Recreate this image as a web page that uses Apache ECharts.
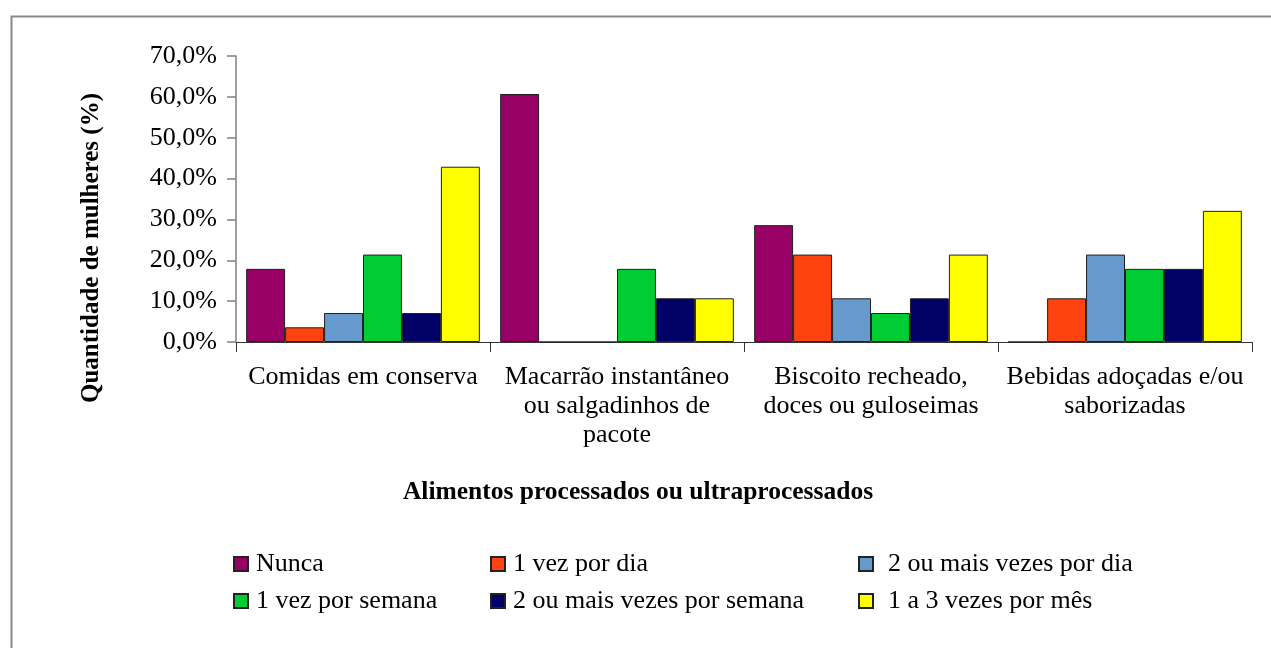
<!DOCTYPE html>
<html><head><meta charset="utf-8">
<script src="https://cdn.jsdelivr.net/npm/echarts@6/dist/echarts.min.js"></script>
<style>html,body{margin:0;padding:0;background:#fff}#c{width:1271px;height:648px}</style>
</head><body><div id="c"></div>
<script>
const categories = ["Comidas em conserva", "Macarrão instantâneo\nou salgadinhos de\npacote", "Biscoito recheado,\ndoces ou guloseimas", "Bebidas adoçadas e/ou\nsaborizadas"];
const seriesNames = ["Nunca", "1 vez por dia", "2 ou mais vezes por dia", "1 vez por semana", "2 ou mais vezes por semana", "1 a 3 vezes por mês"];
const nunca = [17.9, 60.7, 28.6, 0];
const umPorDia = [3.6, 0, 21.4, 10.7];
const doisPorDia = [7.1, 0, 10.7, 21.4];
const umPorSemana = [21.4, 17.9, 7.1, 17.9];
const doisPorSemana = [7.1, 10.7, 10.7, 17.9];
const umATresPorMes = [42.9, 10.7, 21.4, 32.1];
const colors = ["#990066", "#FF420E", "#6699CC", "#00CC33", "#000066", "#FFFF00"];
const yTicks = [0, 10, 20, 30, 40, 50, 60, 70];
const xTitle = "Alimentos processados ou ultraprocessados";
const yTitle = "Quantidade de mulheres (%)";

const allValues = [nunca, umPorDia, doisPorDia, umPorSemana, doisPorSemana, umATresPorMes];
const FONT = "'Liberation Serif', 'DejaVu Serif', serif";
const chart = echarts.init(document.getElementById('c'), null, {renderer: 'canvas'});
const series = seriesNames.map((n, i) => ({
  name: n, type: 'bar', data: allValues[i],
  barGap: '0%', barCategoryGap: '8%',
  itemStyle: {color: colors[i], borderColor: '#222', borderWidth: 1},
  animation: false
}));
const legendItem = (names, left, textPad) => ({
  orient: 'vertical', left: left, top: 551, padding: 0, itemWidth: 14, itemHeight: 14, itemGap: 11,
  icon: 'rect', data: names,
  textStyle: {fontFamily: FONT, fontSize: 26, color: '#000', lineHeight: 26, padding: [0, 0, 0, textPad]},
  selectedMode: false
});
chart.setOption({
  animation: false,
  textStyle: {fontFamily: FONT},
  grid: {left: 236, right: 19, top: 56, bottom: 306, containLabel: false},
  xAxis: {
    type: 'category', data: categories,
    axisLine: {lineStyle: {color: '#333', width: 1}},
    axisTick: {show: true, length: 10, lineStyle: {color: '#333'}},
    axisLabel: {interval: 0, margin: 21, fontFamily: FONT, fontSize: 26, color: '#000', lineHeight: 29, align: 'center'}
  },
  yAxis: {
    type: 'value', min: yTicks[0], max: yTicks[yTicks.length - 1], interval: 10,
    axisLine: {show: true, lineStyle: {color: '#808080', width: 1.5}},
    axisTick: {show: true, length: 9, lineStyle: {color: '#808080', width: 1.5}},
    splitLine: {show: false},
    axisLabel: {margin: 19, fontFamily: FONT, fontSize: 26, color: '#000',
      formatter: v => v.toFixed(1).replace('.', ',') + '%'}
  },
  legend: [
    legendItem([seriesNames[0], seriesNames[3]], 233, 3),
    legendItem([seriesNames[1], seriesNames[4]], 490, 3),
    legendItem([seriesNames[2], seriesNames[5]], 858, 10)
  ],
  graphic: [
    {type: 'rect', left: 9, top: 14, shape: {width: 1300, height: 700}, style: {fill: 'none', stroke: '#888', lineWidth: 2}, silent: true},
    {type: 'text', x: 92, y: 248, rotation: Math.PI / 2, style: {text: yTitle, font: "bold 25px 'Liberation Serif', serif", fill: '#000', align: 'center', verticalAlign: 'middle'}},
    {type: 'text', x: 638, y: 492, style: {text: xTitle, font: "bold 25.5px 'Liberation Serif', serif", fill: '#000', align: 'center', verticalAlign: 'middle'}}
  ],
  series: series
});
</script></body></html>
